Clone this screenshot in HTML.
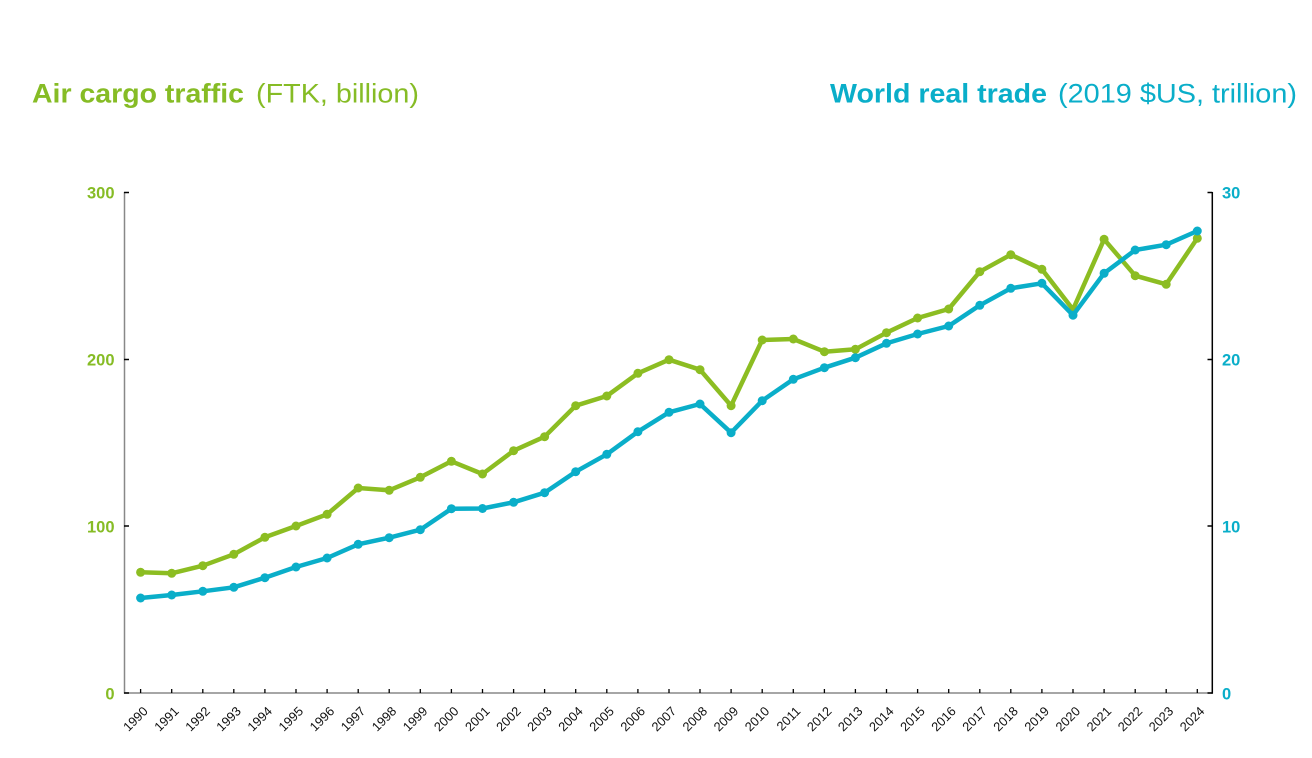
<!DOCTYPE html>
<html><head><meta charset="utf-8">
<style>
html,body{margin:0;padding:0;background:#fff;}
svg{display:block;}
text{font-family:"Liberation Sans",Arial,sans-serif;}
</style></head>
<body>
<svg width="1312" height="758" viewBox="0 0 1312 758" xmlns="http://www.w3.org/2000/svg">
<rect width="1312" height="758" fill="#fff"/>
<!-- titles -->
<text x="32" y="102.5" font-size="26.5" fill="#86bc25"><tspan font-weight="bold" textLength="212" lengthAdjust="spacingAndGlyphs">Air cargo traffic</tspan><tspan x="256" textLength="163" lengthAdjust="spacingAndGlyphs">(FTK, billion)</tspan></text>
<text x="830" y="102.5" font-size="26.5" fill="#0aaec9"><tspan font-weight="bold" textLength="217" lengthAdjust="spacingAndGlyphs">World real trade</tspan><tspan x="1058" textLength="239" lengthAdjust="spacingAndGlyphs">(2019 $US, trillion)</tspan></text>

<!-- axes -->
<line x1="124.5" y1="192" x2="124.5" y2="693.5" stroke="#888" stroke-width="1.5"/>
<line x1="124" y1="693" x2="1212" y2="693" stroke="#888" stroke-width="1.6"/>
<line x1="1212.3" y1="192" x2="1212.3" y2="693.7" stroke="#000" stroke-width="1.5"/>
<g stroke="#000" stroke-width="1.5">
<line x1="124" y1="192.5" x2="129" y2="192.5"/>
<line x1="124" y1="359.5" x2="129" y2="359.5"/>
<line x1="124" y1="526" x2="129" y2="526"/>
<line x1="124" y1="693" x2="129" y2="693"/>
<line x1="1207.5" y1="192.5" x2="1212.3" y2="192.5"/>
<line x1="1207.5" y1="359.5" x2="1212.3" y2="359.5"/>
<line x1="1207.5" y1="526" x2="1212.3" y2="526"/>
<line x1="1207.5" y1="693" x2="1212.3" y2="693"/>
</g>
<g stroke="#000" stroke-width="1.3">
<line x1="140.6" y1="689" x2="140.6" y2="693"/><line x1="171.7" y1="689" x2="171.7" y2="693"/><line x1="202.8" y1="689" x2="202.8" y2="693"/><line x1="233.8" y1="689" x2="233.8" y2="693"/><line x1="264.9" y1="689" x2="264.9" y2="693"/><line x1="296.0" y1="689" x2="296.0" y2="693"/><line x1="327.1" y1="689" x2="327.1" y2="693"/><line x1="358.2" y1="689" x2="358.2" y2="693"/><line x1="389.2" y1="689" x2="389.2" y2="693"/><line x1="420.3" y1="689" x2="420.3" y2="693"/><line x1="451.4" y1="689" x2="451.4" y2="693"/><line x1="482.5" y1="689" x2="482.5" y2="693"/><line x1="513.6" y1="689" x2="513.6" y2="693"/><line x1="544.6" y1="689" x2="544.6" y2="693"/><line x1="575.7" y1="689" x2="575.7" y2="693"/><line x1="606.8" y1="689" x2="606.8" y2="693"/><line x1="637.9" y1="689" x2="637.9" y2="693"/><line x1="669.0" y1="689" x2="669.0" y2="693"/><line x1="700.0" y1="689" x2="700.0" y2="693"/><line x1="731.1" y1="689" x2="731.1" y2="693"/><line x1="762.2" y1="689" x2="762.2" y2="693"/><line x1="793.3" y1="689" x2="793.3" y2="693"/><line x1="824.4" y1="689" x2="824.4" y2="693"/><line x1="855.4" y1="689" x2="855.4" y2="693"/><line x1="886.5" y1="689" x2="886.5" y2="693"/><line x1="917.6" y1="689" x2="917.6" y2="693"/><line x1="948.7" y1="689" x2="948.7" y2="693"/><line x1="979.8" y1="689" x2="979.8" y2="693"/><line x1="1010.8" y1="689" x2="1010.8" y2="693"/><line x1="1041.9" y1="689" x2="1041.9" y2="693"/><line x1="1073.0" y1="689" x2="1073.0" y2="693"/><line x1="1104.1" y1="689" x2="1104.1" y2="693"/><line x1="1135.2" y1="689" x2="1135.2" y2="693"/><line x1="1166.2" y1="689" x2="1166.2" y2="693"/><line x1="1197.3" y1="689" x2="1197.3" y2="693"/>
</g>

<!-- y labels -->
<g font-size="16.5" font-weight="bold" fill="#86bc25" text-anchor="end">
<text x="114.5" y="198.3">300</text>
<text x="114.5" y="365.3">200</text>
<text x="114.5" y="532.3">100</text>
<text x="114.5" y="699.3">0</text>
</g>
<g font-size="16.5" font-weight="bold" fill="#0aaec9">
<text x="1222" y="198.3">30</text>
<text x="1222" y="365.3">20</text>
<text x="1222" y="532.3">10</text>
<text x="1222" y="699.3">0</text>
</g>

<!-- x labels -->
<g font-size="12.8" fill="#111" text-anchor="end">
<text transform="translate(148.6,712) rotate(-45)">1990</text>
<text transform="translate(179.7,712) rotate(-45)">1991</text>
<text transform="translate(210.8,712) rotate(-45)">1992</text>
<text transform="translate(241.8,712) rotate(-45)">1993</text>
<text transform="translate(272.9,712) rotate(-45)">1994</text>
<text transform="translate(304.0,712) rotate(-45)">1995</text>
<text transform="translate(335.1,712) rotate(-45)">1996</text>
<text transform="translate(366.2,712) rotate(-45)">1997</text>
<text transform="translate(397.2,712) rotate(-45)">1998</text>
<text transform="translate(428.3,712) rotate(-45)">1999</text>
<text transform="translate(459.4,712) rotate(-45)">2000</text>
<text transform="translate(490.5,712) rotate(-45)">2001</text>
<text transform="translate(521.6,712) rotate(-45)">2002</text>
<text transform="translate(552.6,712) rotate(-45)">2003</text>
<text transform="translate(583.7,712) rotate(-45)">2004</text>
<text transform="translate(614.8,712) rotate(-45)">2005</text>
<text transform="translate(645.9,712) rotate(-45)">2006</text>
<text transform="translate(677.0,712) rotate(-45)">2007</text>
<text transform="translate(708.0,712) rotate(-45)">2008</text>
<text transform="translate(739.1,712) rotate(-45)">2009</text>
<text transform="translate(770.2,712) rotate(-45)">2010</text>
<text transform="translate(801.3,712) rotate(-45)">2011</text>
<text transform="translate(832.4,712) rotate(-45)">2012</text>
<text transform="translate(863.4,712) rotate(-45)">2013</text>
<text transform="translate(894.5,712) rotate(-45)">2014</text>
<text transform="translate(925.6,712) rotate(-45)">2015</text>
<text transform="translate(956.7,712) rotate(-45)">2016</text>
<text transform="translate(987.8,712) rotate(-45)">2017</text>
<text transform="translate(1018.8,712) rotate(-45)">2018</text>
<text transform="translate(1049.9,712) rotate(-45)">2019</text>
<text transform="translate(1081.0,712) rotate(-45)">2020</text>
<text transform="translate(1112.1,712) rotate(-45)">2021</text>
<text transform="translate(1143.2,712) rotate(-45)">2022</text>
<text transform="translate(1174.2,712) rotate(-45)">2023</text>
<text transform="translate(1205.3,712) rotate(-45)">2024</text>
</g>

<!-- green series -->
<polyline fill="none" stroke="#8cbd22" stroke-width="4.5" stroke-linejoin="round" points="140.6,572.3 171.7,573.3 202.8,565.7 233.8,554.3 264.9,537.3 296.0,526 327.1,514.3 358.2,488 389.2,490.3 420.3,477.3 451.4,461.3 482.5,474 513.6,450.7 544.6,436.7 575.7,405.7 606.8,396 637.9,373.3 669.0,359.7 700.0,369.7 731.1,405.7 762.2,340 793.3,339 824.4,351.7 855.4,349.3 886.5,332.7 917.6,318 948.7,309 979.8,271.7 1010.8,254.7 1041.9,269.3 1073.0,309.5 1104.1,239.3 1135.2,275.7 1166.2,284.3 1197.3,238.3"/>
<g fill="#8cbd22">
<circle cx="140.6" cy="572.3" r="4.5"/><circle cx="171.7" cy="573.3" r="4.5"/><circle cx="202.8" cy="565.7" r="4.5"/><circle cx="233.8" cy="554.3" r="4.5"/><circle cx="264.9" cy="537.3" r="4.5"/><circle cx="296.0" cy="526" r="4.5"/><circle cx="327.1" cy="514.3" r="4.5"/><circle cx="358.2" cy="488" r="4.5"/><circle cx="389.2" cy="490.3" r="4.5"/><circle cx="420.3" cy="477.3" r="4.5"/><circle cx="451.4" cy="461.3" r="4.5"/><circle cx="482.5" cy="474" r="4.5"/><circle cx="513.6" cy="450.7" r="4.5"/><circle cx="544.6" cy="436.7" r="4.5"/><circle cx="575.7" cy="405.7" r="4.5"/><circle cx="606.8" cy="396" r="4.5"/><circle cx="637.9" cy="373.3" r="4.5"/><circle cx="669.0" cy="359.7" r="4.5"/><circle cx="700.0" cy="369.7" r="4.5"/><circle cx="731.1" cy="405.7" r="4.5"/><circle cx="762.2" cy="340" r="4.5"/><circle cx="793.3" cy="339" r="4.5"/><circle cx="824.4" cy="351.7" r="4.5"/><circle cx="855.4" cy="349.3" r="4.5"/><circle cx="886.5" cy="332.7" r="4.5"/><circle cx="917.6" cy="318" r="4.5"/><circle cx="948.7" cy="309" r="4.5"/><circle cx="979.8" cy="271.7" r="4.5"/><circle cx="1010.8" cy="254.7" r="4.5"/><circle cx="1041.9" cy="269.3" r="4.5"/><circle cx="1073.0" cy="309.5" r="4.5"/><circle cx="1104.1" cy="239.3" r="4.5"/><circle cx="1135.2" cy="275.7" r="4.5"/><circle cx="1166.2" cy="284.3" r="4.5"/><circle cx="1197.3" cy="238.3" r="4.5"/>
</g>

<!-- blue series -->
<polyline fill="none" stroke="#0aaec9" stroke-width="4.5" stroke-linejoin="round" points="140.6,598 171.7,595 202.8,591.3 233.8,587.3 264.9,577.7 296.0,567 327.1,558 358.2,544.3 389.2,537.7 420.3,529.7 451.4,508.7 482.5,508.5 513.6,502.3 544.6,492.7 575.7,471.7 606.8,454.3 637.9,431.7 669.0,412.3 700.0,404 731.1,432.7 762.2,400.7 793.3,379.3 824.4,367.7 855.4,357.7 886.5,343.3 917.6,334 948.7,326 979.8,305.3 1010.8,288.3 1041.9,283.3 1073.0,315.2 1104.1,273.3 1135.2,250 1166.2,244.7 1197.3,231"/>
<g fill="#0aaec9">
<circle cx="140.6" cy="598" r="4.5"/><circle cx="171.7" cy="595" r="4.5"/><circle cx="202.8" cy="591.3" r="4.5"/><circle cx="233.8" cy="587.3" r="4.5"/><circle cx="264.9" cy="577.7" r="4.5"/><circle cx="296.0" cy="567" r="4.5"/><circle cx="327.1" cy="558" r="4.5"/><circle cx="358.2" cy="544.3" r="4.5"/><circle cx="389.2" cy="537.7" r="4.5"/><circle cx="420.3" cy="529.7" r="4.5"/><circle cx="451.4" cy="508.7" r="4.5"/><circle cx="482.5" cy="508.5" r="4.5"/><circle cx="513.6" cy="502.3" r="4.5"/><circle cx="544.6" cy="492.7" r="4.5"/><circle cx="575.7" cy="471.7" r="4.5"/><circle cx="606.8" cy="454.3" r="4.5"/><circle cx="637.9" cy="431.7" r="4.5"/><circle cx="669.0" cy="412.3" r="4.5"/><circle cx="700.0" cy="404" r="4.5"/><circle cx="731.1" cy="432.7" r="4.5"/><circle cx="762.2" cy="400.7" r="4.5"/><circle cx="793.3" cy="379.3" r="4.5"/><circle cx="824.4" cy="367.7" r="4.5"/><circle cx="855.4" cy="357.7" r="4.5"/><circle cx="886.5" cy="343.3" r="4.5"/><circle cx="917.6" cy="334" r="4.5"/><circle cx="948.7" cy="326" r="4.5"/><circle cx="979.8" cy="305.3" r="4.5"/><circle cx="1010.8" cy="288.3" r="4.5"/><circle cx="1041.9" cy="283.3" r="4.5"/><circle cx="1073.0" cy="315.2" r="4.5"/><circle cx="1104.1" cy="273.3" r="4.5"/><circle cx="1135.2" cy="250" r="4.5"/><circle cx="1166.2" cy="244.7" r="4.5"/><circle cx="1197.3" cy="231" r="4.5"/>
</g>
</svg>
</body></html>
